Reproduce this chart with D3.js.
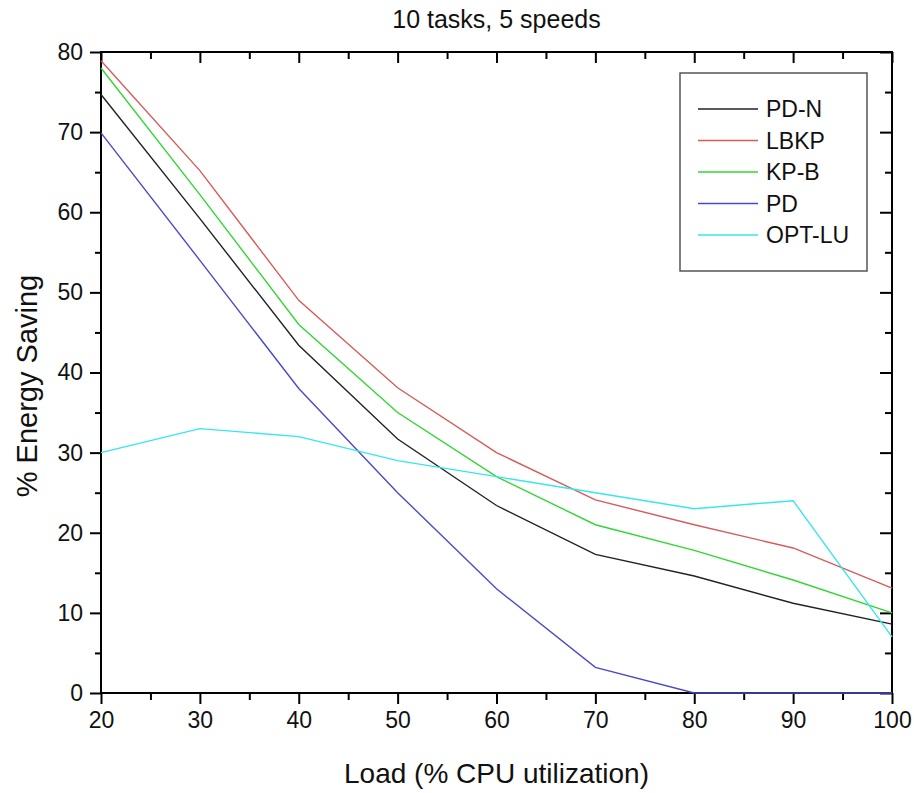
<!DOCTYPE html>
<html>
<head>
<meta charset="utf-8">
<script src="https://cdn.jsdelivr.net/npm/d3@7"></script>
<style>
  body { margin: 0; background: #fff; }
  svg text { font-family: "Liberation Sans", Arial, sans-serif; fill: #111; }
</style>
</head>
<body>
<div id="chart"></div>
<script>
// chart data
var loads = [20, 30, 40, 50, 60, 70, 80, 90, 100];
var seriesNames = ["PD-N", "LBKP", "KP-B", "PD", "OPT-LU"];
var pdN   = [74.7, 59.2, 43.4, 31.7, 23.4, 17.3, 14.6, 11.2, 8.6];
var lbkp  = [78.9, 65.2, 49.0, 38.1, 30.0, 24.1, 21.0, 18.1, 13.1];
var kpB   = [78.0, 62.2, 46.0, 35.0, 27.0, 21.0, 17.8, 14.1, 10.0];
var pd    = [69.9, 54.0, 38.0, 25.0, 13.0, 3.2, 0, 0, 0];
var optLu = [30.0, 33.0, 32.0, 29.0, 27.0, 25.0, 23.0, 24.0, 7.0];
var seriesColors = ["#222222", "#d95a5a", "#33d633", "#4a4ac8", "#38e6ee"];
var xTicks = [20, 30, 40, 50, 60, 70, 80, 90, 100];
var yTicks = [0, 10, 20, 30, 40, 50, 60, 70, 80];

var allSeries = [pdN, lbkp, kpB, pd, optLu];

//svg sizes and margins
var svgWidth = 914;
var svgHeight = 793;
var margin = { top: 52, right: 22, bottom: 100, left: 101 };
var width = svgWidth - margin.left - margin.right;
var height = svgHeight - margin.top - margin.bottom;

var svg = d3.select("#chart")
  .append("svg")
  .attr("width", svgWidth)
  .attr("height", svgHeight);

var chartGroup = svg.append("g")
  .attr("transform", `translate(${margin.left}, ${margin.top})`);

// scales
var xScale = d3.scaleLinear().domain([20, 100]).range([0, width]);
var yScale = d3.scaleLinear().domain([0, 80]).range([height, 0]);

// minor tick values halfway between the majors
var xMinor = d3.range(25, 100, 10);
var yMinor = d3.range(5, 80, 10);

function styleAxis(g) {
  g.select(".domain").remove();
  g.selectAll("line").attr("stroke", "#000").attr("stroke-width", 2);
}

// bottom axis: outward ticks with labels
chartGroup.append("g")
  .attr("transform", `translate(0, ${height})`)
  .call(d3.axisBottom(xScale).tickValues(xTicks).tickSize(11).tickPadding(8).tickFormat(d3.format("d")))
  .call(styleAxis)
  .call(g => g.selectAll("text").attr("font-size", "23px").attr("fill", "#111"));
chartGroup.append("g")
  .attr("transform", `translate(0, ${height})`)
  .call(d3.axisBottom(xScale).tickValues(xMinor).tickSize(7).tickFormat(""))
  .call(styleAxis);

// left axis: outward ticks with labels
chartGroup.append("g")
  .call(d3.axisLeft(yScale).tickValues(yTicks).tickSize(11).tickPadding(7).tickFormat(d3.format("d")))
  .call(styleAxis)
  .call(g => g.selectAll("text").attr("font-size", "23px").attr("fill", "#111"));
chartGroup.append("g")
  .call(d3.axisLeft(yScale).tickValues(yMinor).tickSize(6).tickFormat(""))
  .call(styleAxis);

// top axis: inward ticks, no labels
chartGroup.append("g")
  .call(d3.axisTop(xScale).tickValues(xTicks).tickSize(-11).tickFormat(""))
  .call(styleAxis);
chartGroup.append("g")
  .call(d3.axisTop(xScale).tickValues(xMinor).tickSize(-7).tickFormat(""))
  .call(styleAxis);

// right axis: inward ticks, no labels
chartGroup.append("g")
  .attr("transform", `translate(${width}, 0)`)
  .call(d3.axisRight(yScale).tickValues(yTicks).tickSize(-12).tickFormat(""))
  .call(styleAxis);
chartGroup.append("g")
  .attr("transform", `translate(${width}, 0)`)
  .call(d3.axisRight(yScale).tickValues(yMinor).tickSize(-7).tickFormat(""))
  .call(styleAxis);

// frame
chartGroup.append("rect")
  .attr("x", 0)
  .attr("y", 0)
  .attr("width", width)
  .attr("height", height)
  .attr("fill", "none")
  .attr("stroke", "#000")
  .attr("stroke-width", 2);

// lines
var line = d3.line()
  .x((d, i) => xScale(loads[i]))
  .y(d => yScale(d));

chartGroup.selectAll(".series")
  .data(allSeries)
  .enter()
  .append("path")
  .attr("class", "series")
  .attr("d", d => line(d))
  .attr("fill", "none")
  .attr("stroke", (d, i) => seriesColors[i])
  .attr("stroke-width", 1.4);

// legend
var legend = svg.append("g")
  .attr("transform", "translate(680, 73)");

legend.append("rect")
  .attr("width", 187)
  .attr("height", 198)
  .attr("fill", "#fff")
  .attr("stroke", "#555")
  .attr("stroke-width", 1.5);

var legendRows = legend.selectAll(".row")
  .data(seriesNames)
  .enter()
  .append("g")
  .attr("class", "row")
  .attr("transform", (d, i) => `translate(0, ${36 + i * 31.5})`);

legendRows.append("line")
  .attr("x1", 18)
  .attr("x2", 78)
  .attr("stroke", (d, i) => seriesColors[i])
  .attr("stroke-width", 1.6);

legendRows.append("text")
  .attr("x", 86)
  .attr("y", 8)
  .attr("font-size", "23px")
  .text(d => d);

// title
svg.append("text")
  .attr("x", margin.left + width / 2)
  .attr("y", 28)
  .attr("text-anchor", "middle")
  .attr("font-size", "25px")
  .text("10 tasks, 5 speeds");

// x axis label
svg.append("text")
  .attr("x", margin.left + width / 2)
  .attr("y", 783)
  .attr("text-anchor", "middle")
  .attr("font-size", "28px")
  .text("Load (% CPU utilization)");

// y axis label
svg.append("text")
  .attr("transform", "rotate(-90)")
  .attr("x", -386)
  .attr("y", 37)
  .attr("text-anchor", "middle")
  .attr("font-size", "29px")
  .text("% Energy Saving");
</script>
</body>
</html>
